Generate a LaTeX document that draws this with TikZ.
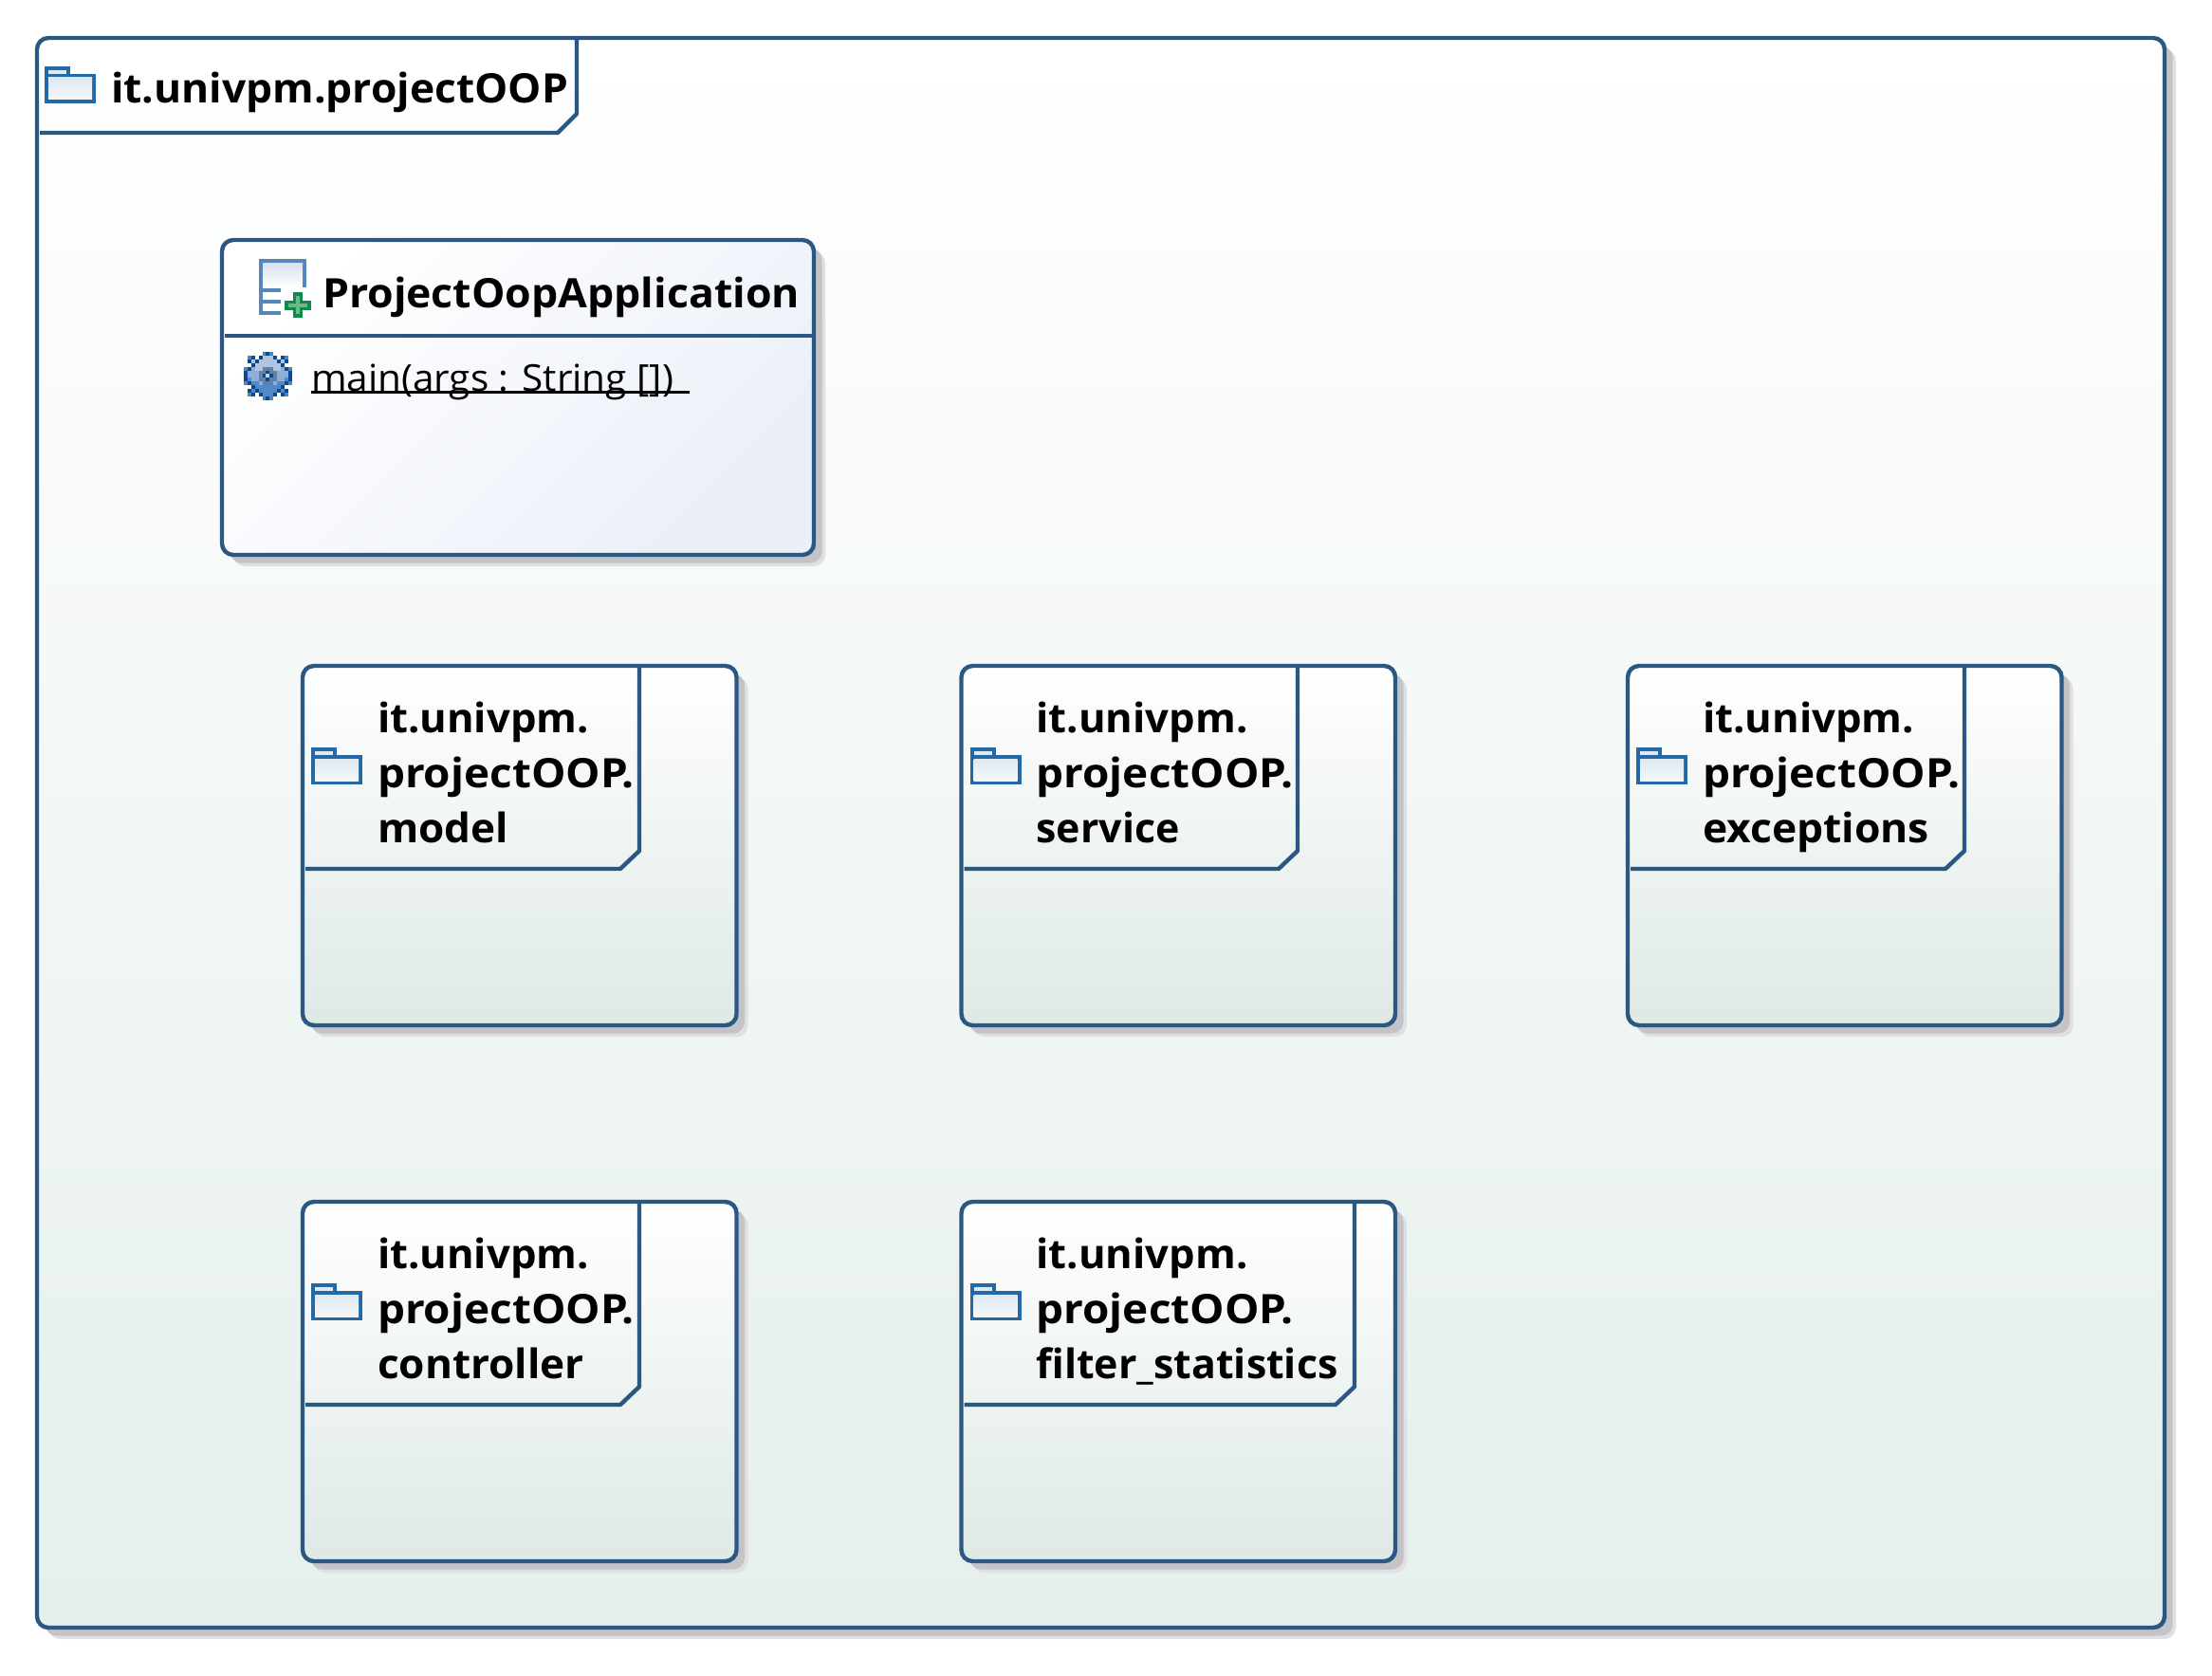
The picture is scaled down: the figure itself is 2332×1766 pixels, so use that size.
\documentclass[tikz,border=0pt]{standalone}
\usepackage{graphicx}
\usepackage{fontspec}
\setmainfont{Open Sans}
\usetikzlibrary{calc}
\definecolor{edge}{HTML}{2B5882}
\definecolor{shadowa}{HTML}{C3C3C8}
\definecolor{shadowb}{HTML}{E0E0E2}
\definecolor{outerb}{HTML}{E5EFEB}
\definecolor{pkgb}{HTML}{DEE9E5}
\definecolor{clsb}{HTML}{EAEFF8}
\definecolor{fold}{HTML}{2469A5}
\definecolor{clsicon}{HTML}{5585BB}
\definecolor{plusd}{HTML}{0D8A50}
\definecolor{plusl}{HTML}{6DB883}
\definecolor{gearD}{HTML}{0B4A8E}
\definecolor{gearM}{HTML}{4A86C4}
\definecolor{gearL}{HTML}{B2C4E0}
\definecolor{gearK}{HTML}{92ACD8}
\definecolor{gearN}{HTML}{5189C8}
\definecolor{gearS}{HTML}{5F82A8}
\definecolor{gearC}{HTML}{C8D4E4}
\tikzset{
  x=0.5pt,y=-0.5pt,
  border/.style={draw=edge,line width=2.2pt,rounded corners=6pt},
  tabline/.style={draw=edge,line width=2.2pt,line join=bevel},
  sep/.style={draw=edge,line width=2.2pt},
  title/.style={font=\bfseries\fontsize{21.4pt}{29pt}\selectfont,inner sep=0pt,outer sep=0pt,anchor=north west,align=left,text=black},
  method/.style={font=\fontsize{19.5pt}{24pt}\selectfont,inner sep=0pt,outer sep=0pt,anchor=base west,text=black},
  px n/.style={fill=none},
  px D/.style={fill=gearD},
  px M/.style={fill=gearM},
  px L/.style={fill=gearL},
  px K/.style={fill=gearK},
  px N/.style={fill=gearN},
  px S/.style={fill=gearS},
  px C/.style={fill=gearC},
  folder/.pic={
    \fill[fold] (0,0) rectangle (27,8);
    \fill[fold] (0,8) rectangle (54,39);
    \fill[white!85!fold] (4,4) rectangle (23,8);
    \shade[top color=fold!15!white,bottom color=fold!5!white] (4,12) rectangle (50,35);
  }
}
\newcommand{\fit}[2]{\resizebox{#1pt}{\height}{#2}}
\newcommand{\shadowbox}[4]{%
  \fill[shadowb,rounded corners=6pt] (#1+12,#2+12) rectangle (#3+12,#4+12);
  \fill[shadowa,rounded corners=6pt] (#1+8.5,#2+8.5) rectangle (#3+8.5,#4+8.5);
}
\newcommand{\pkg}[6]{% name, left, top, tab right, label, label width
  \shadowbox{#2}{#3}{#2+457.5}{#3+379}
  \path[border,top color=white,bottom color=pkgb] (#2,#3) rectangle (#2+457.5,#3+379);
  \draw[tabline] (#4,#3) -- (#4,#3+195) -- (#4-20,#3+214) -- (#2+3,#3+214);
  \path (#2+9,#3+86) pic {folder};
  \node[title] (#1) at (#2+79,#3+37.5) {\fit{111.5}{it.univpm.}\\\fit{135.5}{projectOOP.}\\\fit{#6}{#5}};
}
\begin{document}
\begin{tikzpicture}
\useasboundingbox (0,0) rectangle (2332,1766);
\fill[white] (0,0) rectangle (2332,1766);
\shadowbox{39}{40}{2282}{1716}
\path[border,top color=white,bottom color=outerb] (39,40) rectangle (2282,1716);
\draw[tabline] (608,40) -- (608,120) -- (588,140) -- (42,140);
\path (47,70) pic {folder};
\node[title] (root) at (117,75.5) {\fit{241}{it.univpm.projectOOP}};
% class
\shadowbox{234}{253}{858}{585}
\path[border,top color=white,bottom color=clsb,shading angle=45] (234,253) rectangle (858,585);
\draw[sep] (237,354) -- (856,354);
\shade[top color=clsicon!25!white,bottom color=white] (276,276) rectangle (320,303);
\fill[white] (276,303) rectangle (320,330);
\fill[clsicon] (273,273) rectangle (323,277);
\fill[clsicon] (273,273) rectangle (277,332);
\fill[clsicon] (319,273) rectangle (323,303);
\fill[clsicon] (273,304) rectangle (303,308);
\fill[clsicon] (273,316) rectangle (296,320);
\fill[clsicon] (273,328) rectangle (296,332);
\fill[white] (296,303) rectangle (330,335);
\fill[plusd] (309,308) rectangle (319,335);
\fill[plusd] (300,317) rectangle (328,327);
\fill[plusl] (312,312) rectangle (316,331);
\fill[plusl] (304,320) rectangle (324,324);
\node[title] (cname) at (340,291.5) {\fit{251.5}{ProjectOopApplication}};
% gear icon, pixel by pixel
\foreach \r [count=\j from 0] in {
  {n,n,n,n,n,M,D,M,n,n,n,n,n},
  {n,M,D,n,D,L,L,L,D,n,D,M,n},
  {n,D,L,D,L,L,L,L,L,D,L,D,n},
  {n,n,D,L,L,L,L,L,L,L,D,n,n},
  {M,D,K,L,L,S,S,S,L,L,K,D,M},
  {D,K,K,K,S,S,D,S,S,K,K,K,D},
  {D,K,K,K,S,D,C,D,S,K,K,K,D},
  {D,N,K,K,S,S,D,S,S,K,K,N,D},
  {M,D,N,N,K,S,S,S,K,N,N,D,M},
  {n,n,D,N,N,N,N,N,N,N,D,n,n},
  {n,D,N,D,N,N,N,N,N,D,N,D,n},
  {n,M,D,n,D,N,N,N,D,n,D,M,n},
  {n,n,n,n,n,M,D,M,n,n,n,n,n}}{
  \foreach \c [count=\i from 0] in \r {
    \path[px \c] (257+\i*3.9,371+\j*3.9) rectangle (257+\i*3.9+4.1,371+\j*3.9+4.1);
  }
}
\node[method] (mname) at (328,412) {\fit{191}{main(args : String [])}};
\draw[black,line width=1.5pt] (328,413) -- (727,413);
\pkg{pa}{319}{702}{674}{model}{69}
\pkg{pb}{1013.5}{702}{1368}{service}{75.5}
\pkg{pc}{1716}{702}{2071}{exceptions}{119.5}
\pkg{pd}{319}{1267}{674}{controller}{109}
\pkg{pe}{1013.5}{1267}{1428}{filter\_statistics}{159}
\end{tikzpicture}
\end{document}
